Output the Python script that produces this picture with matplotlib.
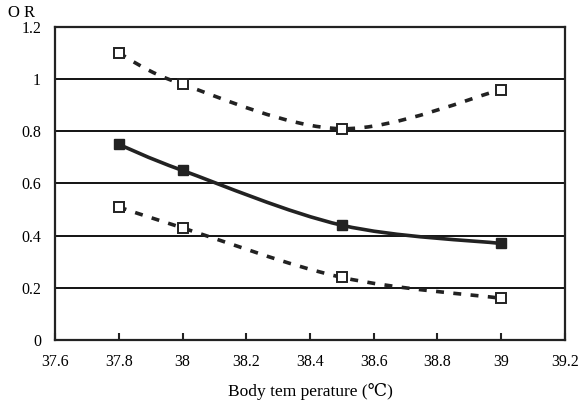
import matplotlib
matplotlib.use("Agg")
import matplotlib.pyplot as plt
from matplotlib.path import Path
from matplotlib.patches import PathPatch
import numpy as np

temps = [37.8, 38.0, 38.5, 39.0]
or_vals = [0.75, 0.65, 0.44, 0.37]
upper = [1.10, 0.98, 0.81, 0.96]
lower = [0.51, 0.43, 0.24, 0.16]
xticks = [37.6, 37.8, 38.0, 38.2, 38.4, 38.6, 38.8, 39.0, 39.2]
xtick_labels = ["37.6", "37.8", "38", "38.2", "38.4", "38.6", "38.8", "39", "39.2"]
yticks = [0, 0.2, 0.4, 0.6, 0.8, 1.0, 1.2]
ytick_labels = ["0", "0.2", "0.4", "0.6", "0.8", "1", "1.2"]

plt.rcParams['font.family'] = ['Liberation Serif', 'DejaVu Serif']

fig = plt.figure(figsize=(5.8, 4.04), dpi=100)
ax = fig.add_axes([55/580, 64/404, 510/580, 313/404])
ax.set_xlim(37.6, 39.2)
ax.set_ylim(0, 1.2)


def smooth_path(xs, ys, ax):
    # Excel-style smoothed line: Bezier segments with Catmull-Rom tangents (in display space)
    pts = ax.transData.transform(np.column_stack([xs, ys]))
    n = len(pts)
    verts = [pts[0]]
    codes = [Path.MOVETO]
    for i in range(n - 1):
        p0 = pts[i - 1] if i > 0 else pts[i]
        p1 = pts[i]
        p2 = pts[i + 1]
        p3 = pts[i + 2] if i + 2 < n else pts[i + 1]
        c1 = p1 + (p2 - p0) / 6.0
        c2 = p2 - (p3 - p1) / 6.0
        verts += [c1, c2, p2]
        codes += [Path.CURVE4] * 3
    verts = ax.transData.inverted().transform(np.array(verts))
    return Path(verts, codes)


for yv in yticks[1:-1]:
    ax.axhline(yv, color="black", lw=1.3, zorder=1)

for ys, ls, lw in [(upper, (0, (2.2, 2.6)), 2.6), (lower, (0, (2.2, 2.6)), 2.6), (or_vals, "-", 2.6)]:
    patch = PathPatch(smooth_path(temps, ys, ax), fill=False, edgecolor="#222222",
                      lw=lw, linestyle=ls, zorder=2)
    ax.add_patch(patch)

ax.plot(temps, or_vals, ls="none", marker="s", ms=7, mfc="#222222", mec="#222222", zorder=3)
ax.plot(temps, upper, ls="none", marker="s", ms=6.5, mfc="white", mec="#222222", mew=1.4, zorder=3)
ax.plot(temps, lower, ls="none", marker="s", ms=6.5, mfc="white", mec="#222222", mew=1.4, zorder=3)

ax.set_xticks(xticks)
ax.set_xticklabels(xtick_labels, fontsize=11.5)
ax.set_yticks(yticks)
ax.set_yticklabels(ytick_labels, fontsize=11.5)
ax.tick_params(axis="x", direction="in", length=5, width=1.5, pad=10, color="#222222")
ax.tick_params(axis="y", length=0, pad=10)
for s in ax.spines.values():
    s.set_linewidth(1.6)
    s.set_color("#222222")

fig.text(8/580, 1 - 13/404, "O R", fontsize=12, ha="left", va="center")
fig.text(310/580, 1 - 391/404, "Body tem perature (\u2103)", fontsize=12.5, ha="center", va="center")

fig.savefig("out.png", dpi=100)
